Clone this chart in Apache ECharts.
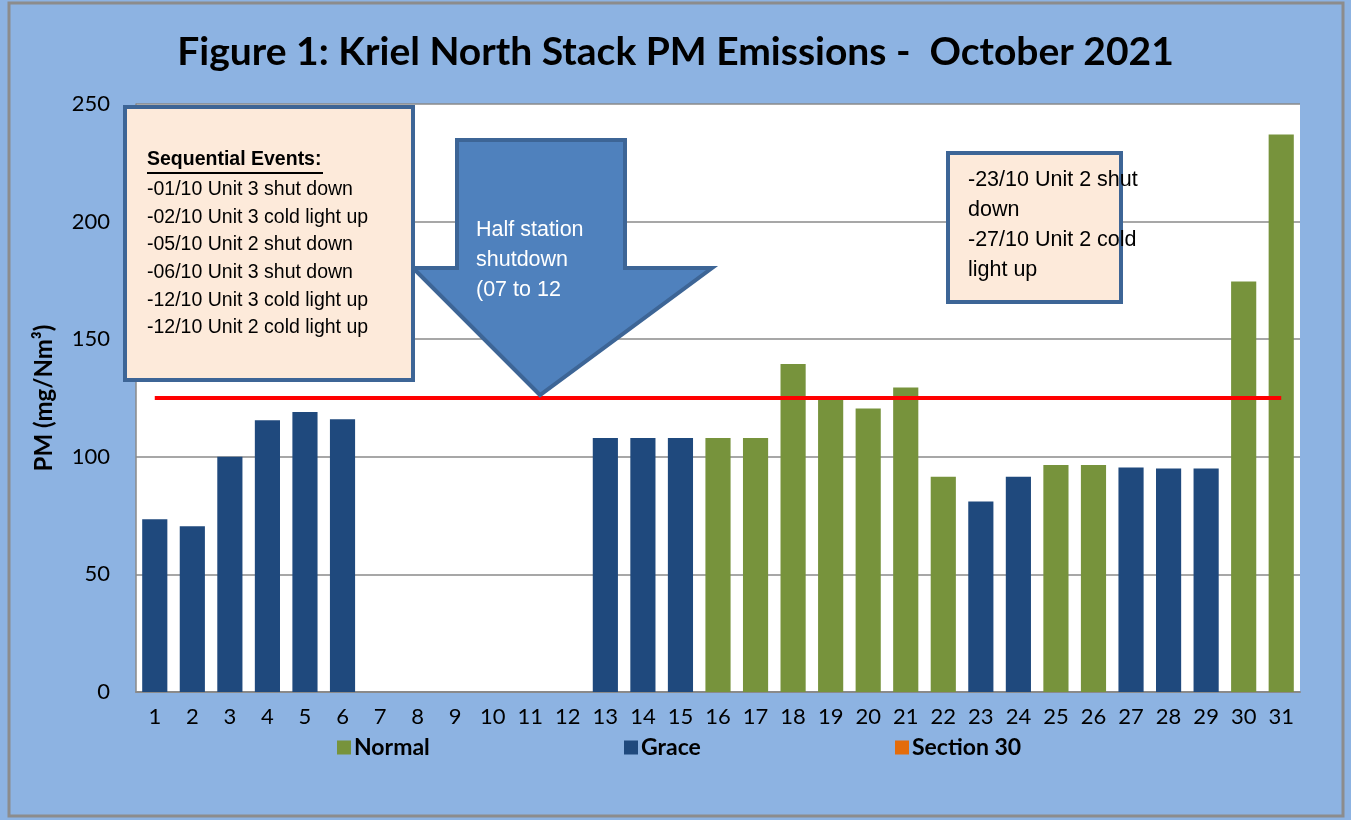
<!DOCTYPE html>
<html>
<head>
<meta charset="utf-8">
<script src="https://cdn.jsdelivr.net/npm/echarts@6/dist/echarts.min.js"></script>
<style>
  html, body { margin: 0; padding: 0; background: #fff; }
  #chart { width: 1351px; height: 820px; }
</style>
</head>
<body>
<div id="chart"></div>
<script>
var days = [];
for (var d = 1; d <= 31; d++) days.push(String(d));

// values, '-' = no bar
var normal = ['-', '-', '-', '-', '-', '-', '-', '-', '-', '-', '-', '-', '-', '-', '-',
    108, 108, 139.5, 125, 120.5, 129.5, 91.5, '-', '-', 96.5, 96.5, '-', '-', '-', 174.5, 237];
var grace = [73.5, 70.5, 100, 115.5, 119, 116, '-', '-', '-', '-', '-', '-', 108, 108, 108,
    '-', '-', '-', '-', '-', '-', '-', 81, 91.5, '-', '-', 95.5, 95, 95, '-', '-'];
var section30 = [];
for (var i = 0; i < 31; i++) section30.push('-');
var limit = [];
for (var j = 0; j < 31; j++) limit.push(125);

var yTicks = [0, 50, 100, 150, 200, 250];

var myChart = echarts.init(document.getElementById('chart'));

var boxText = '#000';
var legendBase = {
    top: 731,
    itemWidth: 14,
    itemHeight: 14,
    itemGap: 6,
    icon: 'rect',
    textStyle: { fontFamily: 'Lato', fontWeight: 'bold', fontSize: 23, color: '#000', padding: [0, 0, 0, -2] }
};

myChart.setOption({
    backgroundColor: '#8DB3E2',
    animation: false,
    title: {
        text: 'Figure 1: Kriel North Stack PM Emissions -  October 2021',
        left: 'center',
        top: 28,
        textStyle: { fontFamily: 'Lato', fontWeight: 'bold', fontSize: 39, color: '#000' }
    },
    legend: [
        Object.assign({ left: 332, data: ['Normal'] }, legendBase),
        Object.assign({ left: 619, data: ['Grace'] }, legendBase),
        Object.assign({ left: 890, data: ['Section 30'] }, legendBase)
    ],
    grid: {
        left: 136, top: 104, right: 51, bottom: 128,
        show: true, backgroundColor: '#fff', borderWidth: 0
    },
    xAxis: {
        type: 'category',
        data: days,
        axisTick: { show: false },
        axisLine: { lineStyle: { color: '#8a8a8a', width: 2 } },
        axisLabel: { fontFamily: 'Lato', fontSize: 22, color: '#000', margin: 14 }
    },
    yAxis: {
        type: 'value',
        min: yTicks[0],
        max: yTicks[yTicks.length - 1],
        interval: 50,
        name: 'PM (mg/Nm³)',
        nameLocation: 'middle',
        nameGap: 80,
        nameTextStyle: { fontFamily: 'Lato', fontWeight: 'bold', fontSize: 24, color: '#000' },
        axisLine: { show: true, lineStyle: { color: '#8a8a8a', width: 1.5 } },
        axisTick: { show: false },
        splitLine: { lineStyle: { color: '#8a8a8a', width: 1.5 } },
        axisLabel: { fontFamily: 'Lato', fontSize: 22, color: '#000', margin: 26 }
    },
    series: [
        { name: 'Normal', type: 'bar', stack: 'pm', data: normal, barWidth: '67%',
          itemStyle: { color: '#77933C' } },
        { name: 'Grace', type: 'bar', stack: 'pm', data: grace,
          itemStyle: { color: '#1F497D' } },
        { name: 'Section 30', type: 'bar', stack: 'pm', data: section30,
          itemStyle: { color: '#E46C0A' } },
        { name: 'Limit', type: 'line', data: limit, symbol: 'none', z: 5,
          lineStyle: { color: '#FF0000', width: 4 } }
    ],
    graphic: [
        // outer frame
        { type: 'rect', shape: { x: 9, y: 3, width: 1334, height: 813 },
          style: { fill: 'none', stroke: '#8c8c8c', lineWidth: 3 }, z: 100 },
        // left events box
        { type: 'rect', shape: { x: 125, y: 107, width: 288, height: 273 },
          style: { fill: '#FDEADA', stroke: '#3D6596', lineWidth: 4 }, z: 50 },
        { type: 'text', left: 147, top: 150, z: 51,
          style: { text: 'Sequential Events:', fill: boxText, font: 'bold 19.5px "Liberation Sans"' } },
        { type: 'line', shape: { x1: 147, y1: 173, x2: 323, y2: 173 },
          style: { stroke: '#000', lineWidth: 2 }, z: 51 },
        { type: 'text', left: 147, top: 176, z: 51,
          style: {
              text: '-01/10 Unit 3 shut down\n-02/10 Unit 3 cold light up\n-05/10 Unit 2 shut down\n-06/10 Unit 3 shut down\n-12/10 Unit 3 cold light up\n-12/10 Unit 2 cold light up',
              fill: boxText, font: '19.5px "Liberation Sans"', lineHeight: 27.6
          } },
        // arrow
        { type: 'polygon', z: 40,
          shape: { points: [[457, 140], [625, 140], [625, 268], [712, 268], [540, 395], [413, 268], [457, 268]] },
          style: { fill: '#4F81BD', stroke: '#3D6596', lineWidth: 4 } },
        { type: 'text', left: 476, top: 215, z: 41,
          style: { text: 'Half station\nshutdown\n(07 to 12', fill: '#fff', font: '21.5px "Liberation Sans"', lineHeight: 30 } },
        // right events box
        { type: 'rect', shape: { x: 948, y: 153, width: 173, height: 149 },
          style: { fill: '#FDEADA', stroke: '#3D6596', lineWidth: 4 }, z: 50 },
        { type: 'text', left: 968, top: 165, z: 51,
          style: { text: '-23/10 Unit 2 shut\ndown\n-27/10 Unit 2 cold\nlight up', fill: boxText, font: '21.5px "Liberation Sans"', lineHeight: 30 } }
    ]
});
</script>
</body>
</html>
